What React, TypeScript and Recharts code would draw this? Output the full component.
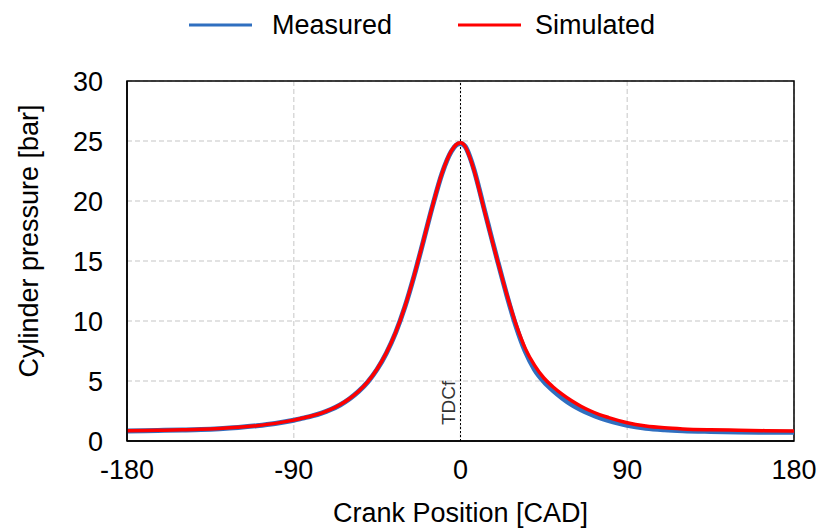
import React from "react";
import {
  LineChart,
  Line,
  XAxis,
  YAxis,
  CartesianGrid,
  ReferenceLine,
  ReferenceArea,
  Legend,
} from "recharts";

const angles = [-180, -170, -160, -150, -140, -130, -120, -110, -100, -90, -85, -80, -75, -70, -65, -60, -55, -50, -45, -40, -35, -30, -25, -20, -15, -10, -5, -2.5, 0, 2.5, 5, 7.5, 10, 12.5, 15, 17.5, 20, 25, 30, 35, 40, 45, 50, 55, 60, 65, 70, 75, 80, 85, 90, 100, 110, 120, 135, 150, 165, 180];

const simulated = [0.85, 0.87, 0.9, 0.93, 0.97, 1.04, 1.14, 1.28, 1.47, 1.74, 1.92, 2.1, 2.33, 2.63, 3.02, 3.52, 4.15, 4.95, 6.0, 7.35, 9.05, 11.2, 13.8, 16.7, 19.65, 22.3, 24.15, 24.68, 24.85, 24.55, 23.65, 22.45, 21.0, 19.45, 17.95, 16.45, 15.0, 12.2, 9.7, 7.7, 6.3, 5.25, 4.5, 3.88, 3.35, 2.9, 2.52, 2.2, 1.95, 1.72, 1.52, 1.25, 1.1, 1.01, 0.94, 0.9, 0.86, 0.84];

const measured = [0.84, 0.86, 0.89, 0.92, 0.96, 1.03, 1.13, 1.27, 1.46, 1.73, 1.91, 2.09, 2.32, 2.62, 3.0, 3.5, 4.13, 4.93, 5.98, 7.33, 9.03, 11.18, 13.78, 16.68, 19.63, 22.28, 24.12, 24.64, 24.8, 24.55, 23.7, 22.5, 21.05, 19.5, 18.0, 16.5, 15.02, 12.15, 9.55, 7.45, 5.95, 4.95, 4.2, 3.57, 3.03, 2.6, 2.25, 1.95, 1.7, 1.49, 1.31, 1.07, 0.94, 0.86, 0.8, 0.76, 0.73, 0.72];

const xTicks = [-180, -90, 0, 90, 180];
const yTicks = [0, 5, 10, 15, 20, 25, 30];

const seriesNames = { measured: "Measured", simulated: "Simulated" };
const colors = { measured: "#2f6fc0", simulated: "#ff0000" };

const data = angles.map((a, i) => ({
  angle: a,
  measured: measured[i],
  simulated: simulated[i],
}));

const FONT = "'Liberation Sans', Arial, sans-serif";

const LegendContent = () => (
  <svg width={820} height={50} style={{ display: "block" }}>
    <line x1={189} y1={25} x2={252} y2={25} stroke={colors.measured} strokeWidth={3} />
    <text x={272} y={34} fontFamily={FONT} fontSize={27} fill="#000">
      {seriesNames.measured}
    </text>
    <line x1={458} y1={25} x2={521} y2={25} stroke={colors.simulated} strokeWidth={3} />
    <text x={535} y={34} fontFamily={FONT} fontSize={27} fill="#000">
      {seriesNames.simulated}
    </text>
  </svg>
);

const TdcLabel = (props: any) => {
  const vb = props.viewBox || {};
  const x = vb.x - 6;
  const y = vb.y + vb.height - 16;
  return (
    <text
      x={x}
      y={y}
      transform={`rotate(-90 ${x} ${y})`}
      fontFamily={FONT}
      fontSize={19}
      fill="#333"
    >
      TDCf
    </text>
  );
};

const YLabel = (props: any) => {
  const vb = props.viewBox || {};
  const x = 38;
  const y = vb.y + vb.height / 2 - 20;
  return (
    <text
      x={x}
      y={y}
      transform={`rotate(-90 ${x} ${y})`}
      textAnchor="middle"
      fontFamily={FONT}
      fontSize={27}
      fill="#000"
    >
      Cylinder pressure [bar]
    </text>
  );
};

const XLabel = (props: any) => {
  const vb = props.viewBox || {};
  return (
    <text
      x={vb.x + vb.width / 2}
      y={522}
      textAnchor="middle"
      fontFamily={FONT}
      fontSize={27}
      fill="#000"
    >
      Crank Position [CAD]
    </text>
  );
};

export default function App() {
  return (
    <div style={{ position: "absolute", left: 0, top: 0, width: 820, height: 528, background: "#fff" }}>
      <LineChart
        width={820}
        height={528}
        data={data}
        margin={{ top: 31, right: 26, bottom: 0, left: 0 }}
      >
        <Legend
          verticalAlign="top"
          align="left"
          height={50}
          content={<LegendContent />}
          wrapperStyle={{ top: 0, left: 0, width: 820, height: 50 }}
        />
        <CartesianGrid
          stroke="#d9d9d9"
          strokeWidth={1.5}
          strokeDasharray="5 3"
        />
        <XAxis
          dataKey="angle"
          type="number"
          domain={[-180, 180]}
          ticks={xTicks}
          interval={0}
          height={87}
          tickLine={false}
          tickSize={0}
          tickMargin={19}
          axisLine={{ stroke: "#000", strokeWidth: 1.5 }}
          tick={{ fill: "#000", fontSize: 27, fontFamily: FONT }}
          label={<XLabel />}
        />
        <YAxis
          type="number"
          domain={[0, 30]}
          ticks={yTicks}
          interval={0}
          width={127}
          tickLine={false}
          tickSize={0}
          tickMargin={24}
          axisLine={{ stroke: "#000", strokeWidth: 1.5 }}
          tick={{ fill: "#000", fontSize: 27, fontFamily: FONT }}
          label={<YLabel />}
        />
        <ReferenceArea
          x1={-180}
          x2={180}
          y1={0}
          y2={30}
          fill="none"
          fillOpacity={0}
          stroke="#000"
          strokeWidth={1.5}
        />
        <ReferenceLine
          x={0}
          stroke="#000"
          strokeWidth={1}
          strokeDasharray="2 2"
          label={<TdcLabel />}
        />
        <Line
          type="monotone"
          dataKey="measured"
          name={seriesNames.measured}
          stroke={colors.measured}
          strokeWidth={5}
          dot={false}
          isAnimationActive={false}
        />
        <Line
          type="monotone"
          dataKey="simulated"
          name={seriesNames.simulated}
          stroke={colors.simulated}
          strokeWidth={3.5}
          dot={false}
          isAnimationActive={false}
        />
      </LineChart>
    </div>
  );
}
